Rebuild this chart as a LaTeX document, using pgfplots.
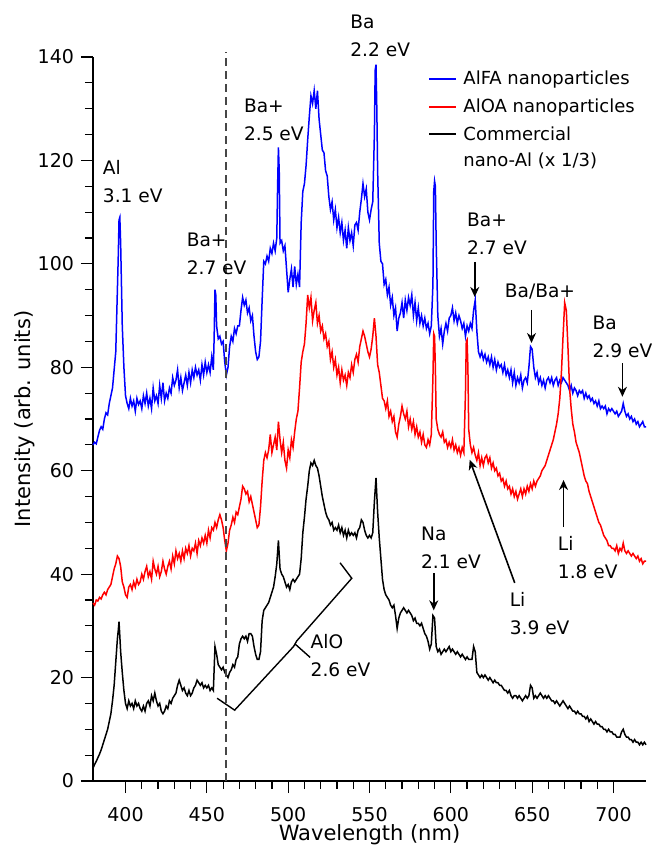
\documentclass[border=0pt]{standalone}
\usepackage{fontspec}
\setmainfont{DejaVu Sans}
\usepackage{pgfplots}
\pgfplotsset{compat=1.18}
\usetikzlibrary{arrows.meta}
\definecolor{dgray}{RGB}{70,70,70}
\begin{document}
\begin{tikzpicture}
\path[use as bounding box] (-46.5pt,-32pt) rectangle (279.5pt,390.5pt);
\begin{axis}[
  scale only axis, width=276.5pt, height=362pt,
  xmin=380, xmax=720, ymin=0, ymax=140,
  axis x line*=bottom, axis y line*=left,
  axis line style={-, line width=0.8pt},
  xtick={400,450,...,700}, ytick={0,20,...,140},
  minor x tick num=4, minor y tick num=3,
  tick align=outside,
  major tick length=6pt, minor tick length=4pt,
  tick style={black, line width=0.6pt},
  /pgf/number format/assume math mode=true,
  tick label style={font=\fontsize{9.5}{11}\selectfont},
  xticklabel style={yshift=-3.5pt},
  xlabel={Wavelength (nm)}, ylabel={Intensity (arb. units)},
  label style={font=\fontsize{10.5}{12}\selectfont},
  xlabel style={at={(axis description cs:0.5,-0.0815)}, anchor=base},
  ylabel style={at={(axis description cs:-0.124,0.5)}, anchor=center},
  clip=false,
  legend cell align=left,
  legend style={draw=none, fill=none, at={(axis description cs:0.595,0.992)}, anchor=north west,
    font=\fontsize{9}{13.3}\selectfont, row sep=1.5pt, column sep=1pt},
  legend image code/.code={\draw[#1, line width=1pt] (0pt,0.25pt) -- (13.5pt,0.25pt);},
  every axis plot/.append style={line width=0.75pt, mark=none},
]
\addplot[blue] table {
380 65.0
381 65.5
382 65.2
383 66.5
384 67.8
385 68.5
386 68.0
387 70.0
388 71.2
389 70.8
390 73.0
391 74.5
392 76.0
393 79.5
394 83.0
395 95.0
395.5 101
396 108.5
396.5 109
397 104
397.5 96
398 88
399 80
400 74.5
401 73.0
402 72.0
403 74.0
404 72.5
405 73.5
406 71.5
407 74.0
408 72.8
409 73.5
410 72.0
411 74.5
412 73.0
413 75.0
414 72.5
415 74.0
416 72.0
417 76.0
418 73.5
419 74.5
420 73.0
421 76.5
422 74.0
423 77.0
424 73.5
425 75.0
426 74.0
427 76.0
428 75.0
429 78.0
430 76.5
431 77.5
432 79.5
433 76.0
434 78.0
435 75.5
436 77.0
437 78.5
438 76.5
439 79.0
440 77.0
441 79.5
442 78.0
443 80.0
444 78.5
445 79.5
446 77.5
447 80.5
448 78.5
449 81.0
450 79.0
451 80.5
452 79.0
453 82.0
454 79.5
454.5 86
455 95.0
455.5 94
456 88
457 85.5
458 86.0
459 84.5
460 85.0
461 81.0
462 78.5
463 80.0
464 84.0
465 86.0
466 85.0
467 87.5
468 86.5
469 88.0
470 88.0
471 91.0
472 93.5
473 92.0
474 93.0
475 90.5
476 91.5
477 89.0
478 90.0
479 86.0
480 83.0
481 81.5
482 82.0
483 85.0
484 93.0
485 100.5
486 100.0
487 101.5
488 100.5
489 103.0
490 102.0
491 104.0
492 102.5
493 105.0
493.5 115
494 122.5
494.5 118
495 104
496 104.5
497 102.5
498 103.5
499 99.0
500 94.5
501 97.0
502 99.0
503 95.5
504 99.5
505 96.0
506 98.0
507 95.5
508 108.0
509 114.0
510 115.5
511 119.0
512 124.0
513 128.5
514 132.5
515 131.0
516 133.5
517 130.0
518 133.5
519 128.0
520 125.0
521 122.0
522 121.5
523 118.0
524 117.0
525 113.0
526 110.5
527 112.0
528 108.5
529 110.5
530 107.0
531 109.0
532 106.0
533 108.0
534 104.5
535 106.5
536 103.0
537 107.0
538 104.5
539 106.0
540 103.5
541 107.5
542 108.0
543 106.5
544 110.0
545 112.5
546 115.5
547 113.0
548 114.5
549 110.0
550 108.5
551 110.5
552 112.0
553 125.0
553.5 137.5
554 138.5
554.5 130
555 118
556 104.0
557 100.5
558 100.0
559 96.0
560 97.0
561 94.0
562 95.5
563 92.0
564 93.5
565 90.0
566 91.5
567 87.0
568 89.5
569 90.5
570 92.5
571 89.5
572 93.0
573 91.0
574 93.5
575 92.0
576 94.0
577 90.0
578 92.5
579 89.0
580 91.5
581 88.5
582 90.0
583 88.0
584 89.5
585 87.5
586 88.5
587 86.5
588 88.0
589 96.0
589.5 114
590 116.0
590.5 115
591 104
592 90.0
593 86.0
594 87.5
595 84.5
596 87.0
597 88.5
598 87.0
599 89.5
600 90.0
601 91.5
602 89.0
603 90.5
604 88.5
605 90.0
606 89.0
607 87.5
608 88.5
609 86.0
610 88.0
611 87.0
612 88.5
613 87.5
614 91.0
615 93.0
616 87.0
617 83.0
618 82.0
619 83.0
620 81.5
621 82.5
622 81.0
623 82.0
624 80.5
625 82.0
626 80.0
627 81.5
628 79.5
629 81.0
630 80.0
631 80.5
632 79.0
633 80.5
634 78.5
635 79.5
636 78.0
637 79.5
638 77.0
639 79.0
640 76.5
641 78.0
642 77.0
643 78.5
644 76.0
645 77.5
646 78.0
647 77.0
648 80.0
649 84.0
650 83.5
651 80.0
652 78.0
653 79.0
654 77.0
655 78.0
656 76.5
657 77.5
658 76.0
659 77.5
660 78.0
661 77.0
662 78.0
663 76.5
664 77.5
665 78.0
666 76.5
667 77.5
668 77.0
669 78.0
670 77.5
671 77.0
672 76.5
673 75.5
674 76.5
675 75.0
676 76.0
677 75.5
678 74.5
679 75.5
680 75.0
681 75.5
682 74.0
683 75.0
684 74.0
685 74.5
686 73.5
687 74.0
688 73.0
689 73.5
690 72.5
691 73.5
692 72.0
693 72.5
694 72.0
695 72.5
696 71.0
697 72.0
698 71.5
699 72.0
700 71.5
701 71.0
702 71.5
703 70.5
704 71.0
705 71.5
706 73.0
707 71.5
708 70.5
709 71.0
710 70.0
711 70.5
712 69.5
713 70.0
714 69.0
715 69.5
716 68.5
717 69.0
718 69.5
719 68.5
720 68.5
};
\addlegendentry{AlFA nanoparticles}
\addplot[red] table {
380 34.4
381 34.0
382 35.0
383 34.8
384 35.5
385 35.2
386 36.0
387 36.5
388 36.0
389 37.0
390 37.5
391 38.0
392 39.5
393 41.0
394 42.0
395 43.5
396 43.0
397 41.5
398 38.5
399 37.5
400 36.0
401 35.5
402 37.5
403 38.0
404 37.0
405 38.5
406 37.5
407 39.0
408 38.0
409 38.5
410 40.0
411 39.0
412 40.5
413 41.5
414 39.5
415 40.5
416 39.0
417 42.5
418 41.0
419 40.0
420 41.5
421 39.5
422 40.5
423 42.5
424 41.0
425 40.0
426 41.5
427 42.5
428 41.0
429 43.5
430 42.0
431 44.5
432 43.0
433 44.0
434 42.5
435 44.5
436 43.0
437 45.0
438 44.0
439 45.5
440 43.5
441 45.0
442 44.5
443 46.0
444 44.0
445 46.5
446 45.5
447 47.0
448 46.0
449 47.5
450 46.0
451 48.5
452 47.0
453 49.0
454 48.5
455 50.0
456 49.0
457 50.5
458 51.5
459 50.5
460 49.0
461 46.5
462 44.5
463 46.0
464 48.5
465 49.5
466 51.0
467 50.0
468 52.0
469 51.5
470 53.0
471 54.5
472 57.0
473 56.5
474 55.5
475 56.0
476 54.0
477 55.0
478 53.5
479 52.0
480 50.5
481 49.0
482 49.5
483 53.0
484 58.0
485 62.0
486 63.5
487 62.5
488 64.0
489 67.0
490 63.5
491 65.0
492 66.5
493 64.0
494 69.5
495 66.0
496 63.5
497 65.5
498 62.0
499 60.5
500 64.0
501 62.5
502 66.0
503 64.5
504 67.5
505 70.0
506 71.5
507 76.0
508 81.0
509 83.0
510 84.5
511 88.5
512 94.0
513 91.5
514 93.5
515 89.0
516 91.0
517 92.5
518 88.5
519 90.0
520 87.0
521 88.0
522 85.5
523 86.5
524 84.0
525 85.0
526 81.5
527 83.0
528 80.0
529 81.5
530 78.5
531 80.0
532 77.0
533 79.5
534 77.5
535 78.5
536 76.5
537 79.0
538 78.0
539 80.5
540 79.0
541 81.5
542 82.5
543 81.0
544 84.0
545 85.5
546 87.0
547 86.0
548 84.5
549 83.0
550 82.0
551 83.5
552 86.0
553 89.5
554 86.0
555 80.5
556 79.0
557 76.5
558 74.0
559 73.5
560 72.0
561 73.5
562 70.5
563 71.5
564 69.5
565 70.5
566 67.5
567 66.5
568 69.0
569 70.5
570 72.5
571 71.0
572 70.0
573 71.5
574 68.5
575 70.0
576 68.0
577 69.5
578 67.0
579 68.5
580 66.5
581 67.5
582 65.5
583 67.0
584 65.0
585 64.5
586 66.0
587 65.0
588 67.0
589 78.0
589.5 86.5
590 86.0
590.5 80
591 70.0
592 68.0
593 67.0
594 66.5
595 67.5
596 65.5
597 66.0
598 64.5
599 65.5
600 64.5
601 66.0
602 64.0
603 65.0
604 63.5
605 64.5
606 63.0
607 64.5
608 63.5
609 75.0
609.5 85
610 85.3
610.5 80
611 68.0
612 65.0
613 63.5
614 64.5
615 63.0
616 62.0
617 63.5
618 61.0
619 62.5
620 61.0
621 62.5
622 63.0
623 61.5
624 62.5
625 60.5
626 61.5
627 60.0
628 60.5
629 59.0
630 59.5
631 58.0
632 58.5
633 57.0
634 58.0
635 56.5
636 57.0
637 55.5
638 56.5
639 55.0
640 56.0
641 54.5
642 55.5
643 56.5
644 55.0
645 56.5
646 55.5
647 57.0
648 56.0
649 57.5
650 56.5
651 58.0
652 57.0
653 58.0
654 58.5
655 59.0
656 60.0
657 60.5
658 61.0
659 62.0
660 63.0
661 64.0
662 65.0
663 66.0
664 67.5
665 69.0
666 71.0
667 74.0
668 79.0
669 86.0
670 92.5
671 91.0
672 84.0
673 76.0
674 72.0
675 69.0
676 67.5
677 65.5
678 64.5
679 63.5
680 62.0
681 60.5
682 59.0
683 58.0
684 57.5
685 56.0
686 55.0
687 54.0
688 53.0
689 52.0
690 51.0
691 50.0
692 49.5
693 48.5
694 47.5
695 47.0
696 46.5
697 45.5
698 45.5
699 45.0
700 45.0
701 44.5
702 45.5
703 44.0
704 45.0
705 44.5
706 46.0
707 44.5
708 44.0
709 44.5
710 44.0
711 43.5
712 44.0
713 43.5
714 43.0
715 43.5
716 42.5
717 43.0
718 42.0
719 42.5
720 42.5
};
\addlegendentry{AlOA nanoparticles}
\addplot[black] table {
380 2.5
381 3.2
382 3.8
383 4.5
384 5.2
385 6.0
386 7.0
387 8.0
388 9.0
389 10.0
390 11.5
391 13.0
392 15.5
393 18.5
394 23.0
395 27.5
395.5 29
396 30.8
396.5 28
397 25.0
398 21.0
399 17.5
400 15.0
401 14.0
402 15.5
403 14.5
404 15.0
405 14.0
406 15.5
407 14.5
408 15.0
409 14.0
410 13.5
411 14.5
412 13.5
413 15.0
414 15.5
415 14.5
416 16.5
417 15.5
418 17.0
419 15.5
420 14.5
421 15.0
422 13.5
423 13.0
424 13.5
425 14.5
426 14.0
427 15.5
428 15.0
429 16.0
430 16.5
431 17.0
432 18.5
433 19.5
434 18.5
435 17.5
436 18.0
437 17.0
438 16.5
439 17.5
440 16.5
441 17.0
442 18.0
443 18.5
444 19.5
445 19.0
446 18.5
447 19.0
448 18.0
449 18.5
450 18.0
451 18.5
452 17.5
453 18.0
454 17.5
455 26.0
456 24.5
457 22.5
458 22.0
459 21.5
460 22.0
461 21.0
462 20.5
463 20.0
464 21.0
465 21.5
466 22.5
467 22.0
468 23.5
469 24.0
470 26.5
471 27.5
472 28.0
473 27.5
474 28.0
475 27.0
476 28.5
477 28.5
478 28.0
479 26.0
480 24.5
481 23.5
482 23.5
483 25.0
484 31.0
485 33.0
486 33.5
487 34.0
488 34.5
489 35.5
490 36.5
491 37.5
492 39.5
493 42.0
494 46.5
495 41.0
496 40.0
497 39.5
498 38.5
499 37.5
500 38.0
501 37.0
502 38.5
503 39.0
504 38.5
505 39.0
506 39.5
507 40.0
508 43.0
509 48.0
510 51.0
511 54.5
512 57.0
513 60.0
514 61.5
515 61.0
516 62.0
517 61.0
518 60.5
519 59.0
520 57.0
521 55.0
522 53.5
523 52.0
524 51.0
525 50.5
526 49.5
527 50.0
528 48.5
529 49.0
530 48.5
531 49.5
532 48.0
533 49.0
534 47.5
535 48.5
536 47.0
537 48.5
538 47.5
539 48.0
540 47.5
541 48.0
542 47.0
543 48.5
544 49.0
545 50.5
546 50.0
547 48.5
548 47.5
549 47.0
550 47.5
551 47.0
552 48.0
553 54.0
554 58.6
555 52.0
556 47.0
557 43.0
558 39.0
559 37.0
560 36.0
561 35.5
562 35.0
563 34.0
564 33.5
565 34.0
566 32.0
567 29.5
568 31.5
569 32.5
570 33.0
571 33.5
572 33.0
573 32.5
574 33.0
575 32.5
576 32.0
577 31.0
578 31.5
579 30.5
580 30.5
581 30.0
582 30.5
583 29.5
584 28.5
585 28.0
586 27.0
587 25.5
588 26.5
589 32.0
590 31.5
591 26.0
592 25.0
593 25.5
594 24.5
595 25.0
596 25.5
597 25.0
598 25.5
599 26.0
600 25.0
601 25.5
602 25.0
603 24.5
604 25.0
605 24.5
606 24.0
607 24.5
608 24.0
609 23.5
610 24.0
611 23.5
612 23.5
613 23.5
614 26.0
615 25.0
616 21.0
617 20.5
618 20.0
619 20.5
620 20.0
621 20.5
622 20.0
623 19.5
624 20.0
625 19.5
626 19.0
627 19.5
628 19.0
629 19.0
630 18.5
631 18.5
632 18.0
633 17.5
634 17.5
635 17.0
636 17.5
637 16.5
638 16.0
639 16.5
640 16.5
641 16.0
642 16.5
643 16.0
644 15.5
645 16.0
646 16.5
647 16.0
648 16.5
649 18.5
650 18.0
651 16.0
652 16.5
653 16.0
654 16.5
655 17.0
656 16.5
657 16.0
658 16.5
659 16.0
660 16.5
661 16.0
662 15.5
663 15.5
664 15.0
665 15.5
666 15.0
667 14.5
668 15.0
669 15.5
670 15.0
671 14.5
672 14.0
673 14.5
674 14.0
675 13.5
676 13.5
677 13.0
678 13.5
679 13.0
680 13.0
681 12.5
682 12.5
683 12.0
684 12.5
685 11.5
686 12.0
687 11.5
688 11.0
689 11.5
690 11.0
691 11.0
692 10.5
693 10.5
694 10.0
695 10.0
696 9.5
697 10.0
698 9.5
699 9.5
700 9.0
701 9.0
702 8.5
703 8.5
704 8.5
705 9.5
706 10.0
707 9.0
708 8.5
709 8.5
710 8.0
711 8.0
712 7.5
713 8.0
714 7.5
715 7.5
716 7.0
717 7.5
718 7.0
719 7.5
720 7.0
};
\addlegendentry{\vtop{\baselineskip=13pt\hbox{Commercial}\hbox{nano-Al (x 1/3)}}}
% dashed line
\draw[dgray, line width=0.8pt, dash pattern=on 4pt off 2.5pt] (axis cs:461.8,0) -- (axis cs:461.8,141);
% annotations
\begin{scope}[every node/.style={anchor=west, inner sep=0pt, align=left, font=\fontsize{9.3}{14}\selectfont}]
\node at (axis cs:385.9,115.9) {Al\\3.1 eV};
\node at (axis cs:437.4,102) {Ba+\\2.7 eV};
\node at (axis cs:472.6,127.8) {Ba+\\2.5 eV};
\node at (axis cs:538,144.1) {Ba\\2.2 eV};
\node at (axis cs:609.8,105.8) {Ba+\\2.7 eV};
\node at (axis cs:633,94.6) {Ba/Ba+};
\node at (axis cs:687,85.9) {Ba\\2.9 eV};
\node at (axis cs:581.5,45.1) {Na\\2.1 eV};
\node at (axis cs:636,32.3) {Li\\3.9 eV};
\node at (axis cs:665.6,43.3) {Li\\1.8 eV};
\node at (axis cs:513.6,24.2) {AlO\\2.6 eV};
\end{scope}
\begin{scope}[line width=0.8pt, -{Stealth[length=5pt,width=4.5pt]}]
\draw (axis cs:614.7,100.4) -- (axis cs:614.7,93.6);
\draw (axis cs:649.6,91.1) -- (axis cs:649.6,84.7);
\draw (axis cs:705.5,80.8) -- (axis cs:705.5,74.3);
\draw (axis cs:589.5,40.2) -- (axis cs:589.5,33);
\draw (axis cs:639.3,38.3) -- (axis cs:611.6,62.1);
\draw (axis cs:669.3,49.1) -- (axis cs:669.3,58.2);
\end{scope}
% bracket
\draw[line width=0.7pt] (axis cs:456.3,16.0) -- (axis cs:467.1,13.7) -- (axis cs:503.3,26.0) -- (axis cs:505.3,27.1) -- (axis cs:539.1,39.2) -- (axis cs:531.9,42.2);
\draw[line width=0.7pt] (axis cs:504.2,26.5) -- (axis cs:513.5,23.9);
\end{axis}
\end{tikzpicture}
\end{document}
